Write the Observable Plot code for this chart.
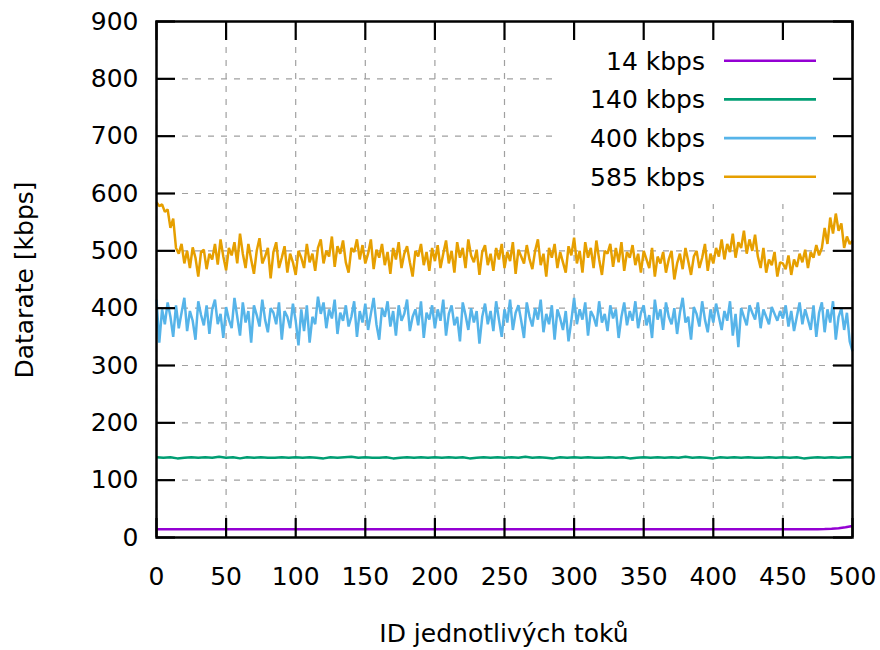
<!DOCTYPE html>
<html><head><meta charset="utf-8">
<script src="https://cdn.jsdelivr.net/npm/d3@7"></script>
<script src="https://cdn.jsdelivr.net/npm/@observablehq/plot@0.6"></script>
<style>body{margin:0;background:#fff;}</style>
</head><body><div id="chart"></div>
<script>
const seriesNames = ["14 kbps", "140 kbps", "400 kbps", "585 kbps"];
const seriesColors = ["#9400d3", "#009e73", "#56b4e9", "#e69f00"];
const xTicks = [0, 50, 100, 150, 200, 250, 300, 350, 400, 450, 500];
const yTicks = [0, 100, 200, 300, 400, 500, 600, 700, 800, 900];
const xTitle = "ID jednotlivých toků";
const yTitle = "Datarate [kbps]";

// 14 kbps (IDs listed explicitly)
const purpleIds = [0,25,50,75,100,125,150,175,200,225,250,275,300,325,350,375,400,425,450,475,480,485,490,495,500];
const purpleVals = [14.5,14.5,14.5,14.5,14.5,14.5,14.5,14.5,14.5,14.5,14.5,14.5,14.5,14.5,14.5,14.5,14.5,14.5,14.5,14.5,14.8,15.4,16.3,17.8,20];

// 140 kbps, every 5 IDs
const greenVals = [
140,139,140,138,139,140,139,140,139,141,
139,140,138,140,139,140,139,139,140,139,
140,139,140,139,138,140,139,140,141,139,
140,139,139,140,138,139,140,139,140,139,
140,139,140,139,140,138,139,140,139,140,
139,140,139,141,139,140,139,138,140,139,
140,139,140,139,139,140,139,140,138,139,
140,139,140,139,140,139,141,139,140,139,
138,140,139,140,139,140,139,139,140,139,
140,139,140,138,139,140,139,140,139,140,
140];

// 400 kbps, every 2 IDs
const blueVals = [
415,340,398,372,410,385,350,405,365,392,418,360,395,378,345,412,388,370,405,355,398,415,372,390,348,
402,380,365,418,385,352,410,375,395,340,405,388,368,415,380,358,400,392,372,410,345,395,385,365,408,
378,335,398,360,405,340,385,372,420,390,410,365,398,382,415,355,392,378,405,368,385,412,350,395,375,
408,362,390,418,372,345,400,385,412,368,395,352,405,378,390,415,360,385,398,370,412,348,392,380,405,
365,398,378,415,352,390,405,370,385,342,410,388,362,400,375,395,338,385,408,372,395,360,412,380,350,
398,375,415,362,392,405,378,348,410,385,368,400,380,415,358,390,372,405,345,398,382,362,395,342,378,
418,372,398,380,410,352,395,385,368,412,375,390,360,405,382,398,348,385,410,370,395,378,412,365,392,
405,370,388,348,415,380,398,362,410,385,372,400,355,392,418,375,385,345,402,390,368,412,380,358,398,
375,408,385,362,395,378,412,352,390,332,400,385,370,405,392,380,410,365,398,385,372,402,390,378,395,
382,405,368,395,360,385,410,372,398,380,362,405,350,392,410,358,398,375,412,345,385,400,362,392,342,
325];

// 585 kbps, every 2 IDs
const orangeVals = [
585,578,581,568,572,540,556,505,495,512,478,500,470,506,488,455,498,502,468,495,485,512,476,520,490,
466,505,492,515,478,530,495,470,512,485,460,500,522,478,490,505,452,498,515,470,488,508,462,495,480,
458,500,488,470,512,480,495,465,505,520,478,500,490,525,472,508,495,518,480,462,505,498,520,485,510,
478,495,520,468,502,488,512,475,498,460,505,485,515,470,495,508,480,455,500,490,512,475,498,465,505,
482,510,470,495,518,478,500,462,515,488,505,470,520,492,480,502,458,498,510,475,495,465,505,485,512,
470,498,482,515,460,502,490,478,510,485,468,500,520,475,495,455,505,488,512,470,498,480,462,508,492,
523,478,500,462,515,488,505,470,518,485,458,500,495,512,472,505,480,515,465,498,488,510,475,495,462,
500,485,470,505,455,490,478,498,462,485,500,450,478,495,468,505,482,458,490,500,470,488,512,465,495,
478,505,490,520,485,512,498,530,488,515,505,535,495,520,500,528,490,470,505,462,485,475,498,455,480,
478,468,492,458,485,472,495,480,502,470,498,488,510,492,505,540,512,558,530,565,535,548,505,525,512,
518];

const rows = [];
purpleIds.forEach((id, i) => rows.push({id, v: purpleVals[i], s: seriesNames[0]}));
greenVals.forEach((v, i) => rows.push({id: i * 5, v, s: seriesNames[1]}));
blueVals.forEach((v, i) => rows.push({id: i * 2, v, s: seriesNames[2]}));
orangeVals.forEach((v, i) => rows.push({id: i * 2, v, s: seriesNames[3]}));

const W = 880, H = 650, mL = 156, mR = 28, mT = 21, mB = 113;
const innerW = W - mL - mR, innerH = H - mT - mB;
const TICK = 19;
const FONT = "DejaVu Sans";

const gridStyle = {stroke: "#a0a0a0", strokeOpacity: 1, strokeWidth: 1.2, strokeDasharray: "6,7"};

// white key box hiding grid behind the legend
const keyBox = () => {
  const g = d3.create("svg:g");
  g.append("rect").attr("x", 554).attr("y", mT).attr("width", W - mR - 554).attr("height", 183).attr("fill", "#fff");
  return g.node();
};

const legend = () => {
  const g = d3.create("svg:g");
  seriesNames.forEach((name, i) => {
    const y = 60.7 + i * 38.7;
    g.append("text").attr("x", 705).attr("y", y).attr("dy", "0.36em").attr("text-anchor", "end")
      .attr("font-family", FONT).attr("font-size", 25).attr("fill", "#000").text(name);
    g.append("line").attr("x1", 724).attr("x2", 816).attr("y1", y).attr("y2", y)
      .attr("stroke", seriesColors[i]).attr("stroke-width", 2.6);
  });
  return g.node();
};

const plot = Plot.plot({
  width: W, height: H,
  marginLeft: mL, marginRight: mR, marginTop: mT, marginBottom: mB,
  style: {fontFamily: FONT, fontSize: "25px", background: "#fff", color: "#000", overflow: "visible"},
  x: {domain: [0, 500]},
  y: {domain: [0, 900]},
  color: {domain: seriesNames, range: seriesColors},
  marks: [
    Plot.gridX(xTicks, gridStyle),
    Plot.gridY(yTicks, gridStyle),
    keyBox,
    Plot.line(rows, {x: "id", y: "v", z: "s", stroke: "s", strokeWidth: 2.5, strokeLinejoin: "miter", strokeLinecap: "butt"}),
    legend,
    Plot.frame({stroke: "#000", strokeWidth: 2.5}),
    Plot.tickY(yTicks, {y: d => d, insetRight: innerW - TICK, stroke: "#000", strokeWidth: 2.2}),
    Plot.tickY(yTicks, {y: d => d, insetLeft: innerW - TICK, stroke: "#000", strokeWidth: 2.2}),
    Plot.tickX(xTicks, {x: d => d, insetTop: innerH - TICK, stroke: "#000", strokeWidth: 2.2}),
    Plot.tickX(xTicks, {x: d => d, insetBottom: innerH - TICK, stroke: "#000", strokeWidth: 2.2}),
    Plot.axisY(yTicks, {tickSize: 0, tickPadding: 18, fontSize: 25, label: null}),
    Plot.axisX(xTicks, {tickSize: 0, tickPadding: 30, fontSize: 25, label: null})
  ]
});

const svg = d3.select(plot);
svg.append("text").attr("transform", "translate(33,280) rotate(-90)").attr("text-anchor", "middle")
  .attr("font-family", FONT).attr("font-size", 25).attr("fill", "#000").text(yTitle);
svg.append("text").attr("x", (mL + W - mR) / 2).attr("y", 642).attr("text-anchor", "middle")
  .attr("font-family", FONT).attr("font-size", 25).attr("fill", "#000").text(xTitle);

document.getElementById("chart").appendChild(plot);
</script>
</body></html>
